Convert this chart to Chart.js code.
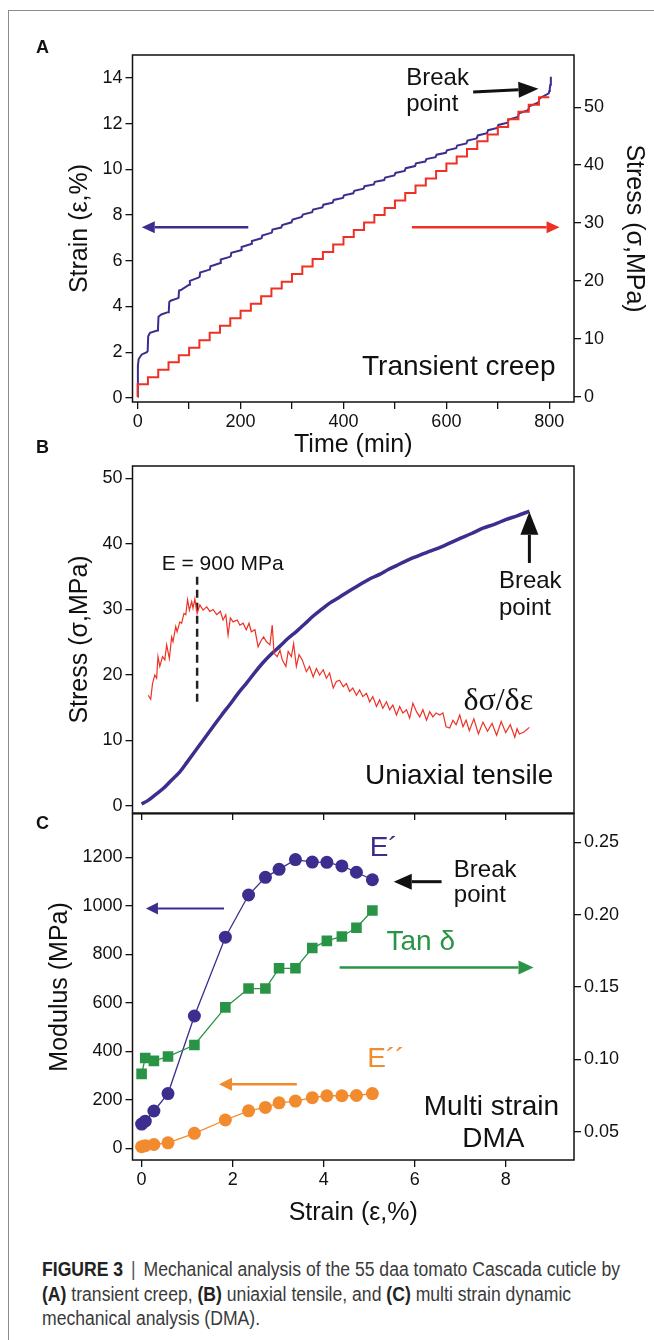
<!DOCTYPE html>
<html>
<head>
<meta charset="utf-8">
<script src="https://cdn.jsdelivr.net/npm/chart.js@4.4.1/dist/chart.umd.min.js"></script>
<style>
  body { margin: 0; background: #fff; }
  #page { position: relative; width: 654px; height: 1340px; overflow: hidden; font-family: 'Liberation Sans', Arial, sans-serif; }
  #frame { position: absolute; left: 8px; top: 10px; width: 700px; height: 1400px; border-left: 1px solid #8c8c8c; border-top: 1px solid #8c8c8c; }
  canvas { position: absolute; left: 0; }
  .tag { position: absolute; left: 36px; font-weight: bold; font-size: 18px; line-height: 18px; color: #111; }
  #caption { position: absolute; left: 42px; top: 1257px; font-size: 20px; line-height: 24.5px; color: #3a3a3a; white-space: nowrap; }
  #caption div { transform-origin: 0 0; }
  #caption b { color: #222; }
  #caption .bar { color: #555; padding: 0 9px; }
</style>
</head>
<body>
<div id="page">
  <div id="frame"></div>
  <canvas id="chartA" width="654" height="460" style="top:0"></canvas>
  <canvas id="chartB" width="654" height="390" style="top:440px"></canvas>
  <canvas id="chartC" width="654" height="440" style="top:800px"></canvas>
  <div class="tag" style="top:38px">A</div>
  <div class="tag" style="top:438px">B</div>
  <div class="tag" style="top:814px">C</div>
  <div id="caption">
    <div><span><b>FIGURE 3</b><span class="bar">|</span>Mechanical analysis of the 55 daa tomato Cascada cuticle by</span></div>
    <div><span><b>(A)</b> transient creep, <b>(B)</b> uniaxial tensile, and <b>(C)</b> multi strain dynamic</span></div>
    <div><span>mechanical analysis (DMA).</span></div>
  </div>
</div>
<script>
// ---- panel A: transient creep ----
const creepTicksTime = [0, 100, 200, 300, 400, 500, 600, 700, 800];
const creepTicksStrain = [0, 2, 4, 6, 8, 10, 12, 14];
const creepTicksStress = [0, 10, 20, 30, 40, 50];

const strainTime = [0, 0.5, 2, 8, 18, 19.5, 20.5, 24, 38, 39.5, 40.5, 46, 59, 60.5, 61.5, 64, 76, 79.5, 80.5, 84,
  98, 100.5, 101.5, 118, 120.5, 121.5, 138, 140.5, 141.5, 158, 160.5, 161.5, 179, 181, 182, 199, 201, 202, 219, 221,
  222, 239, 241, 242, 259, 261, 262, 279,
  281, 299, 301, 319, 321, 339, 341, 359, 361, 379, 381, 399, 401, 419, 421, 439, 441, 459, 461, 479,
  481, 499, 501, 519, 521, 539, 541, 559, 561, 579, 581, 599, 601, 619, 621, 639, 641, 659, 661, 679,
  681, 699, 701, 719, 721, 739, 741, 759, 761, 779, 781, 799, 800, 801, 802, 803];
const strainValue = [0.05, 1.4, 1.7, 1.9, 2.0, 2.05, 2.7, 2.85, 2.95, 3.0, 3.55, 3.65, 3.75, 3.8, 4.2, 4.25, 4.34, 4.38, 4.7, 4.72,
  4.92, 4.95, 5.12, 5.26, 5.3, 5.48, 5.6, 5.62, 5.76, 5.88, 5.9, 6.05, 6.17, 6.2, 6.35, 6.45, 6.47, 6.6, 6.72, 6.74,
  6.86, 6.97, 6.99, 7.1, 7.22, 7.24, 7.36, 7.45,
  7.56, 7.68, 7.80, 7.92, 8.02, 8.12, 8.24, 8.33, 8.45, 8.54, 8.66, 8.75, 8.86, 8.95, 9.06, 9.15, 9.26, 9.34, 9.45, 9.53,
  9.64, 9.73, 9.84, 9.93, 10.05, 10.14, 10.26, 10.34, 10.45, 10.53, 10.64, 10.72, 10.83, 10.92, 11.04, 11.13, 11.26, 11.35, 11.48, 11.58,
  11.71, 11.81, 11.94, 12.04, 12.18, 12.29, 12.45, 12.58, 12.75, 12.92, 13.10, 13.32, 13.42, 13.55, 13.7, 14.05];

const stressTime = [0, 0, 20, 40, 60, 80, 100, 120, 140, 160, 180, 200, 220, 240, 260, 280, 300, 320, 340, 360, 380,
  400, 420, 440, 460, 480, 500, 520, 540, 560, 580, 600, 620, 640, 660, 680, 700, 720, 740, 760, 780, 800];
const stressValue = [0, 0.9, 2.2, 3.4, 4.7, 6.0, 7.2, 8.5, 9.8, 11.1, 12.3, 13.6, 14.9, 16.1, 17.4, 18.7, 19.9, 21.2, 22.5, 23.8, 25.0,
  26.3, 27.6, 28.8, 30.1, 31.4, 32.6, 33.9, 35.2, 36.5, 37.7, 39.0, 40.3, 41.5, 42.8, 44.1, 45.3, 46.6, 47.9, 49.2, 50.4, 51.7];

// ---- panel B: uniaxial tensile ----
const strainTicks = [0, 2, 4, 6, 8];
const tensileTicksStress = [0, 10, 20, 30, 40, 50];

const tensileStrain = [0, 0.15, 0.3, 0.48, 0.65, 0.84, 1.0, 1.21, 1.4, 1.58, 1.76, 1.94, 2.12, 2.31, 2.49, 2.67, 2.85, 3.04, 3.22, 3.41,
  3.6, 3.77, 3.95, 4.14, 4.33, 4.51, 4.7, 4.87, 5.05, 5.24, 5.42, 5.6, 5.78, 5.97, 6.15, 6.34, 6.6, 6.95, 7.25, 7.5,
  7.75, 8.0, 8.25, 8.52];
const tensileStress = [0.3, 0.9, 1.7, 2.7, 3.9, 5.2, 6.7, 8.7, 10.5, 12.2, 13.9, 15.5, 17.2, 18.8, 20.4, 21.9, 23.2, 24.4, 25.6, 26.7,
  27.9, 29.0, 30.0, 31.0, 31.8, 32.6, 33.4, 34.1, 34.8, 35.4, 36.1, 36.7, 37.3, 37.9, 38.4, 38.9, 39.6, 40.7, 41.6, 42.4,
  43.0, 43.7, 44.3, 45.0];

const slopeStrain = [0.145, 0.20, 0.24, 0.29, 0.33, 0.36, 0.40, 0.46, 0.51, 0.55,
  0.61, 0.66, 0.69, 0.75, 0.78, 0.84, 0.88, 0.93, 0.97, 1.01,
  1.05, 1.10, 1.13, 1.17, 1.22, 1.28, 1.35, 1.43, 1.50, 1.57,
  1.65, 1.73, 1.79, 1.85, 1.90, 1.95, 2.01, 2.10, 2.16, 2.23,
  2.30, 2.36, 2.41, 2.49, 2.56, 2.63, 2.68, 2.74, 2.82, 2.87,
  2.91, 2.98, 3.04, 3.09, 3.17, 3.22, 3.29, 3.34, 3.40, 3.46,
  3.53, 3.62, 3.69, 3.77, 3.84, 3.91, 3.99, 4.06, 4.13, 4.21,
  4.28, 4.35, 4.43, 4.50, 4.57, 4.64, 4.72, 4.79, 4.86, 4.94,
  5.01, 5.08, 5.16, 5.23, 5.30, 5.38, 5.45, 5.52, 5.60, 5.67,
  5.74, 5.82, 5.89, 5.96, 6.04, 6.11, 6.18, 6.26, 6.33, 6.40,
  6.47, 6.55, 6.62, 6.69, 6.77, 6.84, 6.91, 6.99, 7.06, 7.13,
  7.2, 7.3, 7.4, 7.5, 7.6, 7.7, 7.8, 7.9, 8.0, 8.1,
  8.2, 8.25, 8.3, 8.4, 8.52];
const slopeValue = [16.9, 16.3, 18.7, 20.0, 19.5, 22.8, 21.3, 22.8, 22.3, 24.6,
  22.5, 25.8, 25.1, 27.4, 26.6, 28.1, 27.9, 29.4, 29.2, 31.5,
  29.9, 31.2, 30.2, 31.6, 29.4, 30.7, 29.9, 30.4, 29.7, 30.0,
  29.2, 29.7, 28.4, 29.2, 26.1, 28.7, 28.1, 28.4, 27.6, 27.9,
  26.9, 27.9, 26.6, 26.9, 24.3, 25.3, 25.8, 25.1, 24.6, 27.6,
  23.3, 22.8, 23.8, 22.3, 21.3, 23.6, 22.8, 24.8, 21.3, 23.1,
  22.3, 20.5, 21.3, 19.7, 21.0, 20.0, 20.8, 19.5, 20.3, 18.0,
  19.0, 19.2, 18.2, 18.7, 17.5, 18.0, 16.9, 17.7, 16.7, 17.2,
  15.9, 16.7, 15.2, 16.2, 14.9, 15.9, 14.7, 15.4, 13.9, 15.2,
  14.2, 14.7, 13.4, 15.7, 14.4, 13.6, 14.7, 13.1, 14.4, 13.6,
  14.2, 13.9, 14.2, 12.1, 11.9, 13.1, 12.4, 13.9, 12.1, 13.1,
  11.5, 13.3, 11.0, 12.8, 11.4, 12.6, 10.8, 12.9, 11.2, 12.4,
  10.5, 11.8, 11.0, 11.3, 12.0];

const modulusMarkStrain = [1.22, 1.22];
const modulusMarkStress = [15.9, 35.0];

// ---- panel C: multi strain DMA ----
const modulusTicks = [0, 200, 400, 600, 800, 1000, 1200];
const tanTicks = [0.05, 0.10, 0.15, 0.20, 0.25];
const dmaStrain = [0, 0.08, 0.27, 0.58, 1.16, 1.84, 2.35, 2.72, 3.02, 3.38, 3.75, 4.07, 4.40, 4.72, 5.07];
const storageModulus = [100, 112, 154, 226, 546, 871, 1045, 1118, 1151, 1191, 1181, 1180, 1165, 1139, 1108];
const lossModulus = [7, 11, 16, 23, 62, 117, 155, 169, 188, 195, 209, 217, 217, 218, 226];
const tanDelta = [0.090, 0.101, 0.099, 0.102, 0.110, 0.136, 0.149, 0.149, 0.163, 0.163, 0.177, 0.182, 0.185, 0.191, 0.203];

const INK = '#111';
const BLUE = '#3b2e8e';
const RED = '#ee3124';
const GREEN = '#2a9446';
const ORANGE = '#f28a2e';
const SANS = "'Liberation Sans', Arial, sans-serif";

Chart.defaults.font.family = SANS;
Chart.defaults.color = INK;

function pts(xs, ys) {
  return xs.map((x, i) => ({x: x, y: ys[i]}));
}

function axis(o) {
  return {
    type: 'linear', position: o.pos, min: o.min, max: o.max,
    afterBuildTicks: s => { s.ticks = o.ticks.map(v => ({value: v})); },
    afterFit: s => {
      if (o.width != null) s.width = o.width;
      if (o.height != null) s.height = o.height;
    },
    grid: {drawOnChartArea: false, color: INK, lineWidth: 1.3, tickLength: 7},
    border: {display: false},
    ticks: {color: INK, font: {size: 18}, padding: o.pad == null ? 3 : o.pad, autoSkip: false,
      maxRotation: 0, minRotation: 0, callback: o.fmt || (v => v)},
    title: {display: !!o.title, text: o.title || '', color: INK, font: {size: 25}, padding: o.tpad || 0}
  };
}

function drawArrow(ctx, x1, y1, x2, y2, a) {
  const ang = Math.atan2(y2 - y1, x2 - x1);
  const bx = x2 - a.head * Math.cos(ang), by = y2 - a.head * Math.sin(ang);
  ctx.strokeStyle = a.color; ctx.fillStyle = a.color; ctx.lineWidth = a.lw;
  ctx.beginPath(); ctx.moveTo(x1, y1); ctx.lineTo(bx, by); ctx.stroke();
  ctx.beginPath();
  ctx.moveTo(x2, y2);
  ctx.lineTo(bx + a.hw * Math.sin(ang), by - a.hw * Math.cos(ang));
  ctx.lineTo(bx - a.hw * Math.sin(ang), by + a.hw * Math.cos(ang));
  ctx.closePath(); ctx.fill();
}

// texts and arrows placed in data units, then the box around the plot
function notes(items) {
  return {
    id: 'notes',
    afterDatasetsDraw(chart) {
      const ctx = chart.ctx, s = chart.scales;
      ctx.save();
      items.forEach(n => {
        const xs = s.x, ys = s[n.axis || 'y'];
        if (n.text) {
          ctx.font = n.font || ('24px ' + SANS);
          ctx.fillStyle = n.color || INK;
          ctx.textAlign = n.align || 'left';
          ctx.textBaseline = 'alphabetic';
          ctx.fillText(n.text, xs.getPixelForValue(n.x), ys.getPixelForValue(n.y));
        } else {
          drawArrow(ctx, xs.getPixelForValue(n.x1), ys.getPixelForValue(n.y1),
            xs.getPixelForValue(n.x2), ys.getPixelForValue(n.y2), n);
        }
      });
      const a = chart.chartArea;
      ctx.strokeStyle = INK; ctx.lineWidth = 1.5;
      ctx.strokeRect(a.left, a.top, a.right - a.left, a.bottom - a.top);
      ctx.restore();
    }
  };
}

const base = {
  responsive: false, animation: false, devicePixelRatio: 1,
  plugins: {legend: {display: false}, tooltip: {enabled: false}}
};

// A
new Chart(document.getElementById('chartA'), {
  type: 'scatter',
  data: {
    datasets: [
      {data: pts(stressTime, stressValue), yAxisID: 'y2', showLine: true, stepped: 'after',
        borderColor: RED, borderWidth: 2, pointRadius: 0},
      {data: pts(strainTime, strainValue), yAxisID: 'y', showLine: true,
        borderColor: BLUE, borderWidth: 2, pointRadius: 0}
    ]
  },
  options: Object.assign({}, base, {
    layout: {padding: {top: 55, left: 0, right: 0, bottom: 0}},
    scales: {
      x: axis({pos: 'bottom', min: -10, max: 848, ticks: creepTicksTime, height: 58, pad: 2,
        fmt: v => (v % 200 === 0 ? v : ''), title: 'Time (min)', tpad: {top: 0, bottom: 0}}),
      y: axis({pos: 'left', min: -0.18, max: 15.0, ticks: creepTicksStrain, width: 132.5,
        title: 'Strain (ε,%)', tpad: {top: 65, bottom: 0}}),
      y2: axis({pos: 'right', min: -0.86, max: 59, ticks: creepTicksStress, width: 80,
        title: 'Stress (σ,MPa)', tpad: {top: 5, bottom: 0}})
    }
  }),
  plugins: [notes([
    {text: 'Break', x: 522, y: 13.67},
    {text: 'point', x: 522, y: 12.57},
    {text: 'Transient creep', x: 436, y: 1.02, font: '28px ' + SANS},
    {x1: 215, y1: 7.47, x2: 8, y2: 7.47, color: BLUE, lw: 2.5, head: 13, hw: 6},
    {x1: 533, y1: 7.47, x2: 820, y2: 7.47, color: RED, lw: 2.5, head: 13, hw: 6},
    {x1: 652, y1: 13.38, x2: 779, y2: 13.52, color: INK, lw: 3, head: 20, hw: 8}
  ])]
});

// B
new Chart(document.getElementById('chartB'), {
  type: 'scatter',
  data: {
    datasets: [
      {data: pts(slopeStrain, slopeValue), showLine: true, borderColor: RED, borderWidth: 1.2, pointRadius: 0},
      {data: pts(modulusMarkStrain, modulusMarkStress), showLine: true, borderColor: '#222', borderWidth: 2.5,
        borderDash: [8, 5], pointRadius: 0},
      {data: pts(tensileStrain, tensileStress), showLine: true, borderColor: BLUE, borderWidth: 3.5, pointRadius: 0,
        cubicInterpolationMode: 'monotone'}
    ]
  },
  options: Object.assign({}, base, {
    layout: {padding: {top: 26, left: 0, right: 80, bottom: 0}},
    scales: {
      x: axis({pos: 'bottom', min: -0.2, max: 9.5, ticks: strainTicks, height: 17, fmt: () => ''}),
      y: axis({pos: 'left', min: -1.07, max: 51.9, ticks: tensileTicksStress, width: 132.5,
        title: 'Stress (σ,MPa)', tpad: {top: 65, bottom: 0}})
    }
  }),
  plugins: [notes([
    {text: 'E = 900 MPa', x: 0.44, y: 36.1, font: '21px ' + SANS},
    {text: 'Break', x: 7.85, y: 33.3},
    {text: 'point', x: 7.85, y: 29.2},
    {text: 'δσ/δε', x: 7.07, y: 14.66, font: "32px 'Liberation Serif', 'DejaVu Serif', serif"},
    {text: 'Uniaxial tensile', x: 4.91, y: 3.36, font: '28px ' + SANS},
    {x1: 8.52, y1: 37.1, x2: 8.52, y2: 44.9, color: INK, lw: 3, head: 23, hw: 9}
  ])]
});

// C
new Chart(document.getElementById('chartC'), {
  type: 'scatter',
  data: {
    datasets: [
      {data: pts(dmaStrain, lossModulus), showLine: true, borderColor: ORANGE, borderWidth: 1.3,
        backgroundColor: ORANGE, pointBackgroundColor: ORANGE, pointBorderWidth: 0, pointRadius: 6.5},
      {data: pts(dmaStrain, tanDelta), yAxisID: 'y2', showLine: true, borderColor: GREEN, borderWidth: 1.3,
        pointStyle: 'rect', pointBackgroundColor: GREEN, pointBorderWidth: 0, pointRadius: 7.5},
      {data: pts(dmaStrain, storageModulus), showLine: true, borderColor: BLUE, borderWidth: 1.3,
        pointBackgroundColor: BLUE, pointBorderWidth: 0, pointRadius: 6.5}
    ]
  },
  options: Object.assign({}, base, {
    layout: {padding: {top: 13, left: 0, right: 0, bottom: 0}},
    scales: {
      x: axis({pos: 'bottom', min: -0.2, max: 9.5, ticks: strainTicks, height: 80, pad: 2,
        title: 'Strain (ε,%)', tpad: {top: 0, bottom: 12}}),
      y: axis({pos: 'left', min: -48, max: 1380, ticks: modulusTicks, width: 132.5,
        title: 'Modulus (MPa)', tpad: {top: 45, bottom: 0}}),
      y2: axis({pos: 'right', min: 0.0305, max: 0.2698, ticks: tanTicks, width: 80, fmt: v => v.toFixed(2)})
    }
  }),
  plugins: [notes([
    {text: 'E´', x: 5.01, y: 1207, color: BLUE, font: '28px ' + SANS},
    {text: 'Break', x: 6.86, y: 1120},
    {text: 'point', x: 6.86, y: 1015},
    {text: 'Tan δ', x: 5.38, y: 819, color: GREEN, font: '28px ' + SANS},
    {text: 'E´´', x: 4.96, y: 336, color: ORANGE, font: '28px ' + SANS},
    {text: 'Multi strain', x: 6.2, y: 137, font: '28px ' + SANS},
    {text: 'DMA', x: 7.73, y: 6.6, align: 'center', font: '28px ' + SANS},
    {x1: 6.59, y1: 1100, x2: 5.54, y2: 1100, color: INK, lw: 3, head: 18, hw: 8},
    {x1: 1.81, y1: 989, x2: 0.095, y2: 989, color: BLUE, lw: 2, head: 12, hw: 6},
    {x1: 4.35, y1: 746, x2: 8.61, y2: 746, color: GREEN, lw: 2.5, head: 15, hw: 7},
    {x1: 3.41, y1: 264, x2: 1.70, y2: 264, color: ORANGE, lw: 2.5, head: 13, hw: 6.5}
  ])]
});

// caption lines squeezed to the width of the printed caption
const capLines = document.querySelectorAll('#caption > div');
const k = 578 / capLines[0].firstElementChild.getBoundingClientRect().width;
capLines.forEach(d => { d.style.transform = 'scaleX(' + k + ')'; });
</script>
</body>
</html>
